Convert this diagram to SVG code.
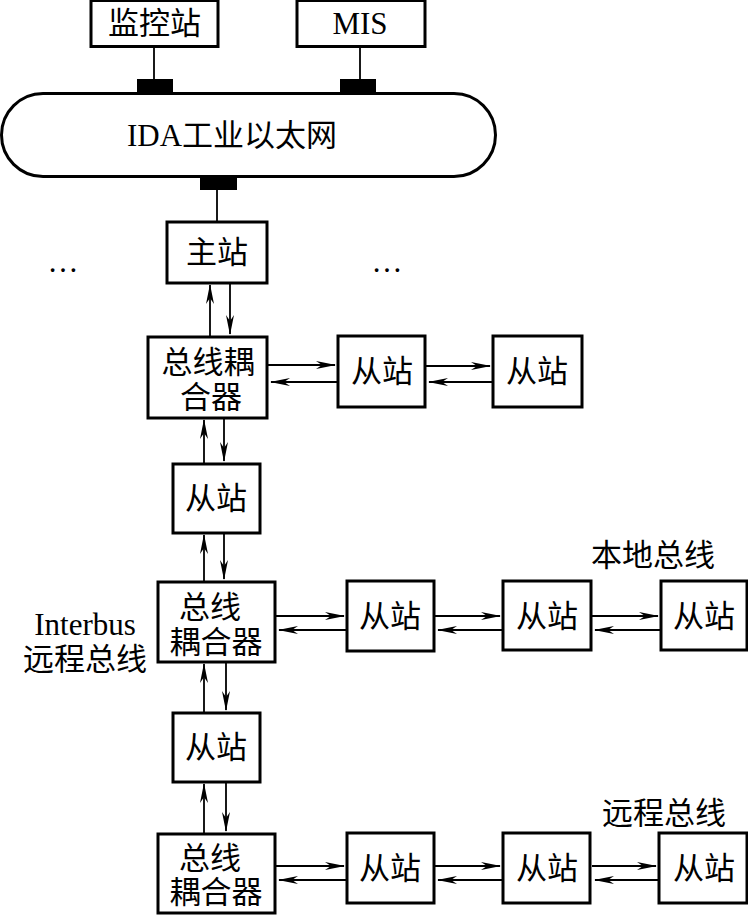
<svg xmlns="http://www.w3.org/2000/svg" width="748" height="916" viewBox="0 0 748 916">
<style>
.box{fill:#fff;stroke:#000;stroke-width:3}
.t{font-family:"Liberation Serif","Noto Sans CJK SC",serif;font-size:31px;fill:#000;text-anchor:middle}
.c{stroke:#000;stroke-width:1.8;fill:none}
.a{stroke:#000;stroke-width:1.8;fill:none;marker-end:url(#ah)}
.blk{fill:#000}
</style>
<defs>
<marker id="ah" markerUnits="userSpaceOnUse" markerWidth="20" markerHeight="9" refX="19" refY="4.5" orient="auto">
<path d="M0,0.5 L20,4.5 L0,8.5 L6,4.5 z" fill="#000"/>
</marker>
</defs>
<rect width="748" height="916" fill="#fff"/>

<g id="connectors">
<line class="c" x1="154" y1="46" x2="154" y2="80"/>
<line class="c" x1="360" y1="46" x2="360" y2="80"/>
<line class="c" x1="217" y1="189" x2="217" y2="222"/>
<rect class="blk" x="137" y="79" width="36" height="15"/>
<rect class="blk" x="340" y="79" width="36" height="15"/>
<rect class="blk" x="200" y="176" width="37" height="14"/>
<line class="a" x1="210" y1="337" x2="210" y2="285"/>
<line class="a" x1="230" y1="284" x2="230" y2="334"/>
<line class="a" x1="204" y1="464" x2="204" y2="420"/>
<line class="a" x1="224" y1="419" x2="224" y2="461"/>
<line class="a" x1="204" y1="582" x2="204" y2="535"/>
<line class="a" x1="224" y1="534" x2="224" y2="579"/>
<line class="a" x1="204" y1="713" x2="204" y2="664"/>
<line class="a" x1="226" y1="663" x2="226" y2="710"/>
<line class="a" x1="204" y1="834" x2="204" y2="784"/>
<line class="a" x1="226" y1="783" x2="226" y2="831"/>
<line class="a" x1="268" y1="365" x2="335" y2="365"/>
<line class="a" x1="338" y1="382" x2="271" y2="382"/>
<line class="a" x1="426" y1="366" x2="490" y2="366"/>
<line class="a" x1="493" y1="382" x2="429" y2="382"/>
<line class="a" x1="276" y1="616" x2="344" y2="616"/>
<line class="a" x1="347" y1="630" x2="279" y2="630"/>
<line class="a" x1="435" y1="616" x2="500" y2="616"/>
<line class="a" x1="503" y1="630" x2="438" y2="630"/>
<line class="a" x1="592" y1="616" x2="658" y2="616"/>
<line class="a" x1="661" y1="630" x2="595" y2="630"/>
<line class="a" x1="276" y1="866" x2="344" y2="866"/>
<line class="a" x1="347" y1="880" x2="279" y2="880"/>
<line class="a" x1="435" y1="866" x2="500" y2="866"/>
<line class="a" x1="503" y1="880" x2="438" y2="880"/>
<line class="a" x1="592" y1="866" x2="656" y2="866"/>
<line class="a" x1="659" y1="880" x2="595" y2="880"/>
</g>

<g id="jiankong"><rect class="box" x="91" y="0.5" width="127" height="46"/><text class="t" x="154.5" y="34">监控站</text></g>
<g id="mis"><rect class="box" x="297" y="0.5" width="128" height="46"/><text class="t" x="360" y="34">MIS</text></g>
<g id="ethernet"><rect class="box" x="1.5" y="93.5" width="494" height="83" rx="41.5" ry="41.5"/><text class="t" x="232" y="146">IDA工业以太网</text></g>
<g id="master"><rect class="box" x="167" y="222" width="100" height="61"/><text class="t" x="217" y="263">主站</text></g>
<g id="coupler1"><rect class="box" x="148" y="337" width="119" height="81"/><text class="t" x="208" y="373">总线耦</text><text class="t" x="211" y="408">合器</text></g>
<g id="s1a"><rect class="box" x="338" y="336" width="87" height="71"/><text class="t" x="382" y="382">从站</text></g>
<g id="s1b"><rect class="box" x="493" y="336" width="89" height="71"/><text class="t" x="537" y="382">从站</text></g>
<g id="sv1"><rect class="box" x="173" y="464" width="87" height="69"/><text class="t" x="216" y="509">从站</text></g>
<g id="coupler2"><rect class="box" x="158" y="582" width="117" height="80"/><text class="t" x="210" y="618">总线</text><text class="t" x="216" y="653">耦合器</text></g>
<g id="s2a"><rect class="box" x="347" y="581" width="87" height="70"/><text class="t" x="390" y="627">从站</text></g>
<g id="s2b"><rect class="box" x="503" y="581" width="88" height="69"/><text class="t" x="547" y="627">从站</text></g>
<g id="s2c"><rect class="box" x="661" y="581" width="86" height="69"/><text class="t" x="704" y="627">从站</text></g>
<g id="sv2"><rect class="box" x="173" y="713" width="87" height="69"/><text class="t" x="216" y="758">从站</text></g>
<g id="coupler3"><rect class="box" x="158" y="834" width="117" height="79"/><text class="t" x="210" y="869">总线</text><text class="t" x="216" y="903">耦合器</text></g>
<g id="s3a"><rect class="box" x="347" y="833" width="87" height="70"/><text class="t" x="390" y="879">从站</text></g>
<g id="s3b"><rect class="box" x="503" y="833" width="87" height="70"/><text class="t" x="547" y="879">从站</text></g>
<g id="s3c"><rect class="box" x="659" y="833" width="88" height="70"/><text class="t" x="704" y="879">从站</text></g>

<g id="labels">
<text class="t" x="63" y="272">…</text>
<text class="t" x="387" y="272">…</text>
<text class="t" x="653" y="566">本地总线</text>
<text class="t" x="664" y="824">远程总线</text>
<text class="t" x="85" y="635">Interbus</text>
<text class="t" x="85" y="670">远程总线</text>
</g>
</svg>
